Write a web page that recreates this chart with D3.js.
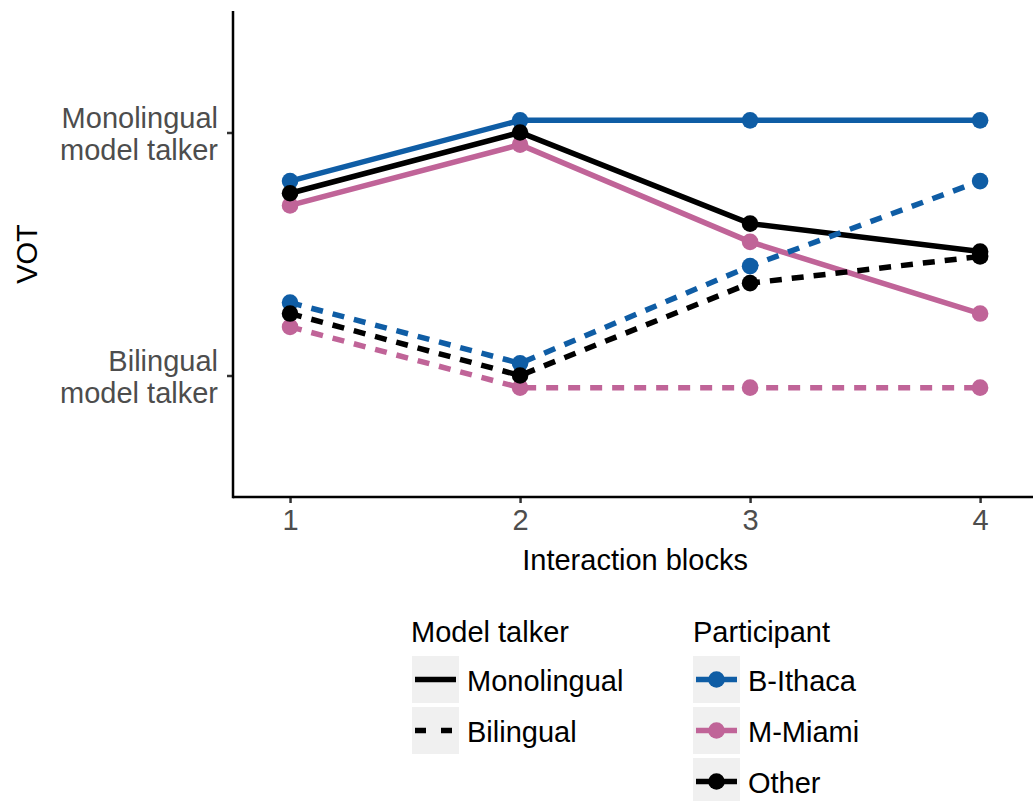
<!DOCTYPE html>
<html>
<head>
<meta charset="utf-8">
<script src="https://cdn.jsdelivr.net/npm/d3@7"></script>
<style>
  html, body { margin: 0; padding: 0; background: #fff; }
  svg { display: block; font-family: "Liberation Sans", Arial, Helvetica, sans-serif; }
</style>
</head>
<body>
<svg id="chart" width="1033" height="801"></svg>
<script>
// ---- Data ----
const blocks = [1, 2, 3, 4];
const participants = ["B-Ithaca", "M-Miami", "Other"];
const modelTalkers = ["Monolingual", "Bilingual"];
const yTickValues = [1, 0];
const yTickLabels = [["Monolingual", "model talker"], ["Bilingual", "model talker"]];

// VOT (relative: 0 = bilingual model talker, 1 = monolingual model talker)
const monoBIthaca = [0.80, 1.05, 1.05, 1.05];
const monoMMiami  = [0.70, 0.95, 0.55, 0.255];
const monoOther   = [0.75, 1.00, 0.625, 0.51];
const biBIthaca   = [0.30, 0.05, 0.45, 0.80];
const biMMiami    = [0.20, -0.05, -0.05, -0.05];
const biOther     = [0.255, 0.00, 0.38, 0.49];

const colors = { "B-Ithaca": "#0f5da5", "M-Miami": "#c06498", "Other": "#000000" };
const dashes = { "Monolingual": null, "Bilingual": "12,10" };

const series = [
  { p: "B-Ithaca", m: "Monolingual", v: monoBIthaca },
  { p: "M-Miami",  m: "Monolingual", v: monoMMiami },
  { p: "Other",    m: "Monolingual", v: monoOther },
  { p: "B-Ithaca", m: "Bilingual",   v: biBIthaca },
  { p: "M-Miami",  m: "Bilingual",   v: biMMiami },
  { p: "Other",    m: "Bilingual",   v: biOther }
];

// ---- Layout ----
const svg = d3.select("#chart");
const FS = 29;
const x = d3.scaleLinear().domain([0.752, 4.23]).range([233, 1033]);
const y = d3.scaleLinear().domain([-0.5, 1.5]).range([497, 11]);

// axes
const gx = svg.append("g").attr("transform", `translate(0,${y(-0.5)})`)
  .call(d3.axisBottom(x).tickValues(blocks).tickFormat(d3.format("d")).tickSizeOuter(0).tickSize(6).tickPadding(6));
const gy = svg.append("g").attr("transform", `translate(${x(0.752)},0)`)
  .call(d3.axisLeft(y).tickValues(yTickValues).tickFormat("").tickSizeOuter(0).tickSize(6));

[gx, gy].forEach(g => {
  g.select(".domain").remove();
  g.selectAll(".tick line").attr("stroke", "#333").attr("stroke-width", 2.5);
});
// axis lines
svg.append("line").attr("x1", x(0.752)).attr("x2", x(4.23)).attr("y1", y(-0.5)).attr("y2", y(-0.5))
  .attr("stroke", "#000").attr("stroke-width", 2.5);
svg.append("line").attr("x1", x(0.752)).attr("x2", x(0.752)).attr("y1", y(-0.5) + 1.25).attr("y2", y(1.5))
  .attr("stroke", "#000").attr("stroke-width", 2.5);

gx.selectAll(".tick text").attr("font-size", FS).attr("fill", "#4d4d4d")
  .attr("font-family", "Liberation Sans, Arial, sans-serif");

// multi-line y tick labels
gy.selectAll(".tick").each(function(d) {
  const t = d3.select(this).append("text")
    .attr("x", -15).attr("text-anchor", "end")
    .attr("font-size", FS).attr("fill", "#4d4d4d");
  const lines = yTickLabels[yTickValues.indexOf(d)];
  t.append("tspan").attr("x", -15).attr("y", -5).text(lines[0]);
  t.append("tspan").attr("x", -15).attr("y", 27).text(lines[1]);
});

// axis titles
svg.append("text").attr("x", x(2.5)).attr("y", 570).attr("text-anchor", "middle")
  .attr("font-size", FS).attr("fill", "#000").text("Interaction blocks");
svg.append("text").attr("transform", `translate(37,${(y(-0.5) + y(1.5)) / 2}) rotate(-90)`)
  .attr("text-anchor", "middle").attr("font-size", FS).attr("fill", "#000").text("VOT");

// lines
const line = d3.line().x((d, i) => x(blocks[i])).y(d => y(d));
svg.append("g").selectAll("path").data(series).join("path")
  .attr("d", s => line(s.v))
  .attr("fill", "none")
  .attr("stroke", s => colors[s.p])
  .attr("stroke-width", 5.5)
  .attr("stroke-dasharray", s => dashes[s.m]);

// points
svg.append("g").selectAll("g").data(series).join("g")
  .attr("fill", s => colors[s.p])
  .selectAll("circle").data(s => s.v).join("circle")
  .attr("cx", (d, i) => x(blocks[i])).attr("cy", d => y(d)).attr("r", 8.3);

// ---- Legends ----
const keyW = 47, keyH = 47, keyGap = 4;
// Model talker
const lg1 = svg.append("g").attr("transform", "translate(412,0)");
lg1.append("text").attr("x", -1).attr("y", 642).attr("font-size", FS).text("Model talker");
modelTalkers.forEach((m, i) => {
  const top = 656 + i * (keyH + keyGap);
  lg1.append("rect").attr("x", 0).attr("y", top).attr("width", keyW).attr("height", keyH).attr("fill", "#f0f0f0");
  lg1.append("line").attr("x1", 3).attr("x2", keyW - 3).attr("y1", top + keyH / 2).attr("y2", top + keyH / 2)
    .attr("stroke", "#000").attr("stroke-width", 5.5).attr("stroke-dasharray", m === "Bilingual" ? "11,15" : null);
  lg1.append("text").attr("x", 55).attr("y", top + 35).attr("font-size", FS).text(m);
});
// Participant
const lg2 = svg.append("g").attr("transform", "translate(693,0)");
lg2.append("text").attr("x", 0).attr("y", 642).attr("font-size", FS).text("Participant");
participants.forEach((p, i) => {
  const top = 656 + i * (keyH + keyGap);
  lg2.append("rect").attr("x", 0).attr("y", top).attr("width", keyW).attr("height", keyH).attr("fill", "#f0f0f0");
  lg2.append("line").attr("x1", 3).attr("x2", keyW - 3).attr("y1", top + keyH / 2).attr("y2", top + keyH / 2)
    .attr("stroke", colors[p]).attr("stroke-width", 5.5);
  lg2.append("circle").attr("cx", keyW / 2).attr("cy", top + keyH / 2).attr("r", 8.3).attr("fill", colors[p]);
  lg2.append("text").attr("x", 55).attr("y", top + 35).attr("font-size", FS).text(p);
});
</script>
</body>
</html>
